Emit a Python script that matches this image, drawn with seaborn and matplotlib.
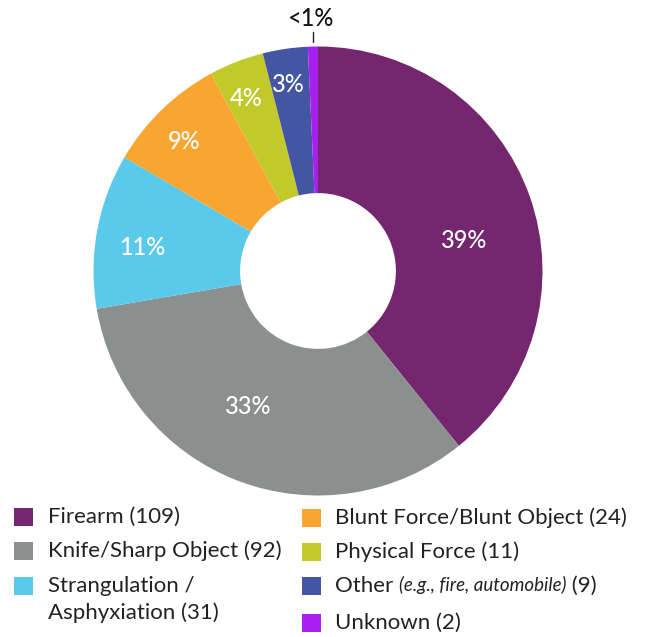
import numpy as np
import matplotlib
matplotlib.use("Agg")
import matplotlib.pyplot as plt
import seaborn as sns
from matplotlib.patches import Rectangle

# ---- data ----
categories = ["Firearm", "Knife/Sharp Object", "Strangulation /\nAsphyxiation",
              "Blunt Force/Blunt Object", "Physical Force", "Other", "Unknown"]
counts = [109, 92, 31, 24, 11, 9, 2]
colors = ["#74266F", "#8B8F8D", "#5BC9E9", "#F9A532", "#C2C92A", "#4355A3", "#A81FF0"]

sns.set_theme(style="white")
plt.rcParams['font.family'] = ['Lato', 'DejaVu Sans']

W, H = 654, 637
fig = plt.figure(figsize=(W / 100, H / 100), dpi=100)
fig.patch.set_facecolor("white")

cx, cy, R = 318, 271, 224.5
ax = fig.add_axes([(cx - R) / W, (H - cy - R) / H, 2 * R / W, 2 * R / H])
pal = sns.color_palette(colors)
wedges, _ = ax.pie(counts, colors=pal, startangle=90, counterclock=False,
                   radius=1, wedgeprops=dict(width=0.653, linewidth=0))
ax.set_xlim(-1, 1)
ax.set_ylim(-1, 1)
ax.set_aspect("auto")
ax.axis("off")

total = sum(counts)
pcts = [c / total * 100 for c in counts]
label_r = [0.664, 0.677, 0.79, 0.83, 0.833, 0.84]
label_da = [-7.8, -6.6, 2.6, 2.0, 1.4, 0.5]
for i, w in enumerate(wedges):
    p = pcts[i]
    if p < 1:
        mid = np.deg2rad((w.theta1 + w.theta2) / 2)
        x0 = np.cos(mid)
        ax.plot([x0 * 1.02, x0 * 1.02], [1.02, 1.065], color="#222222", lw=1, clip_on=False)
        ax.text(x0 * 1.02 - 0.01, 1.125, "<1%", ha="center", va="center", fontsize=17,
                color="#111111", fontweight="medium", clip_on=False)
        continue
    mid = (w.theta1 + w.theta2) / 2 + label_da[i]
    a = np.deg2rad(mid)
    ax.text(label_r[i] * np.cos(a), label_r[i] * np.sin(a), f"{round(p)}%",
            ha="center", va="center", fontsize=17, color="white", fontweight="medium")

# ---- legend (manual layout) ----
txt_color = "#222222"
fs = 16
left_rows = [(0, 517), (1, 551), (2, 586)]
right_rows = [(3, 518), (4, 552), (5, 586), (6, 623)]

def add_square(x, y, c):
    fig.patches.append(Rectangle((x / W, (H - y - 9) / H), 19 / W, 18 / H,
                                 transform=fig.transFigure, facecolor=c, edgecolor="none"))

for idx, y in left_rows:
    add_square(14, y, colors[idx])
    if "\n" in categories[idx]:
        l1, l2 = categories[idx].split("\n")
        fig.text(48 / W, (H - y) / H, l1, fontsize=fs, color=txt_color, va="center", ha="left")
        fig.text(48 / W, (H - y - 27) / H, f"{l2} ({counts[idx]})", fontsize=fs,
                 color=txt_color, va="center", ha="left")
    else:
        fig.text(48 / W, (H - y) / H, f"{categories[idx]} ({counts[idx]})", fontsize=fs,
                 color=txt_color, va="center", ha="left")

fig.canvas.draw()
renderer = fig.canvas.get_renderer()
for idx, y in right_rows:
    add_square(302, y, colors[idx])
    if categories[idx] == "Other":
        t1 = fig.text(335 / W, (H - y) / H, "Other ", fontsize=fs, color=txt_color,
                      va="center", ha="left")
        bb = t1.get_window_extent(renderer)
        t2 = fig.text(bb.x1 / W, (H - y + 1) / H, "(e.g., fire, automobile)", fontsize=13.5,
                      style="italic", color=txt_color, va="center", ha="left")
        bb2 = t2.get_window_extent(renderer)
        fig.text(bb2.x1 / W, (H - y) / H, f" ({counts[idx]})", fontsize=fs, color=txt_color,
                 va="center", ha="left")
    else:
        fig.text(335 / W, (H - y) / H, f"{categories[idx]} ({counts[idx]})", fontsize=fs,
                 color=txt_color, va="center", ha="left")

fig.savefig("out.png", dpi=100, facecolor="white")
